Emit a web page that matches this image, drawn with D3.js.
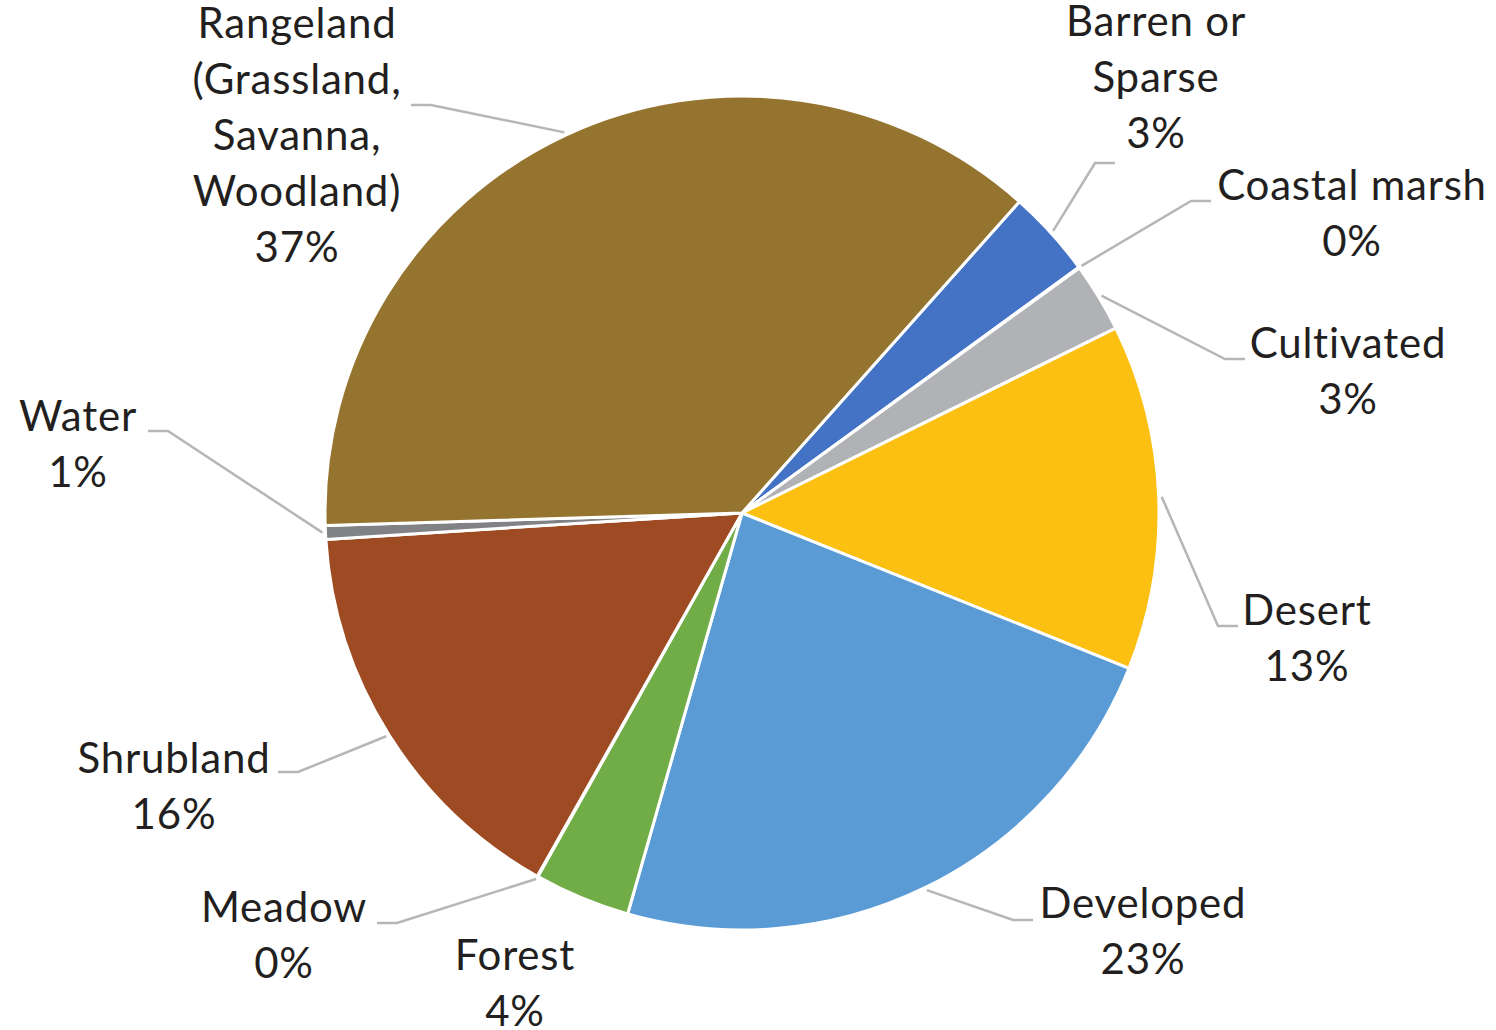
<!DOCTYPE html>
<html>
<head>
<meta charset="utf-8">
<script src="https://cdn.jsdelivr.net/npm/d3@7"></script>
<style>
  html, body { margin: 0; padding: 0; background: #fff; }
  svg { display: block; }
  text { font-family: Lato, "Open Sans", sans-serif; fill: #231f20; letter-spacing: 0.8px; }
</style>
</head>
<body>
<svg id="chart" width="1496" height="1030"></svg>
<script>
// Land cover shares, clockwise from the first slice
var categories = ["Barren or Sparse", "Coastal marsh", "Cultivated", "Desert", "Developed",
                  "Forest", "Meadow", "Shrubland", "Water", "Rangeland"];
var shares     = [3.39, 0.03, 2.69, 13.39, 23.36, 3.72, 0.03, 15.83, 0.53, 37.08];
var labelLines = [["Barren or", "Sparse"], ["Coastal marsh"], ["Cultivated"], ["Desert"],
                  ["Developed"], ["Forest"], ["Meadow"], ["Shrubland"], ["Water"],
                  ["Rangeland", "(Grassland,", "Savanna,", "Woodland)"]];
var colors     = ["#4472c4", "#8faadc", "#b1b2b5", "#fbc012", "#5b9bd5",
                  "#70ad47", "#a9d18e", "#9e4a23", "#818285", "#95742f"];

// label placement (text centre x, first baseline y, leader end, text side)
var labelPos = [
  { x: 1156, y: 36,  ex: 1115, ey: 163, side: "r" },
  { x: 1352, y: 200, ex: 1211, ey: 201, side: "r" },
  { x: 1348, y: 358, ex: 1245, ey: 359, side: "r" },
  { x: 1307, y: 625, ex: 1238, ey: 626, side: "r" },
  { x: 1143, y: 918, ex: 1033, ey: 920, side: "r" },
  { x: 515,  y: 970, ex: null, ey: null, side: null },
  { x: 284,  y: 922, ex: 377,  ey: 923, side: "l" },
  { x: 174,  y: 773, ex: 278,  ey: 772, side: "l" },
  { x: 78,   y: 431, ex: 148,  ey: 431, side: "l" },
  { x: 297,  y: 38,  ex: 411,  ey: 105, side: "l" }
];

var cx = 742, cy = 513, R = 417;
var fontSize = 42, lineH = 56;

var svg = d3.select("#chart");
var total = d3.sum(shares);

var pie = d3.pie()
  .sort(null)
  .value(function (d) { return d; })
  .startAngle(41.7 * Math.PI / 180)
  .endAngle(41.7 * Math.PI / 180 + 2 * Math.PI);

var arcs = pie(shares);
var arc = d3.arc().innerRadius(0).outerRadius(R);

var g = svg.append("g").attr("transform", "translate(" + cx + "," + cy + ")");

g.selectAll("path.slice")
  .data(arcs)
  .join("path")
  .attr("class", "slice")
  .attr("d", arc)
  .attr("fill", function (d, i) { return colors[i]; })
  .attr("stroke", "#fff")
  .attr("stroke-width", 3)
  .attr("stroke-linejoin", "round");

// leader lines
arcs.forEach(function (d, i) {
  var p = labelPos[i];
  if (p.ex == null) return;
  var mid = (d.startAngle + d.endAngle) / 2;
  var sx = cx + (R + 3) * Math.sin(mid);
  var sy = cy - (R + 3) * Math.cos(mid);
  var elbowX = p.side === "r" ? p.ex - 20 : p.ex + 20;
  svg.append("polyline")
    .attr("points", [[sx, sy], [elbowX, p.ey], [p.ex, p.ey]].join(" "))
    .attr("fill", "none")
    .attr("stroke", "#b5b6b9")
    .attr("stroke-width", 2.5);
});

// labels
categories.forEach(function (c, i) {
  var p = labelPos[i];
  var lines = labelLines[i].concat([Math.round(shares[i] / total * 100) + "%"]);
  var t = svg.append("text")
    .attr("text-anchor", "middle")
    .attr("font-size", fontSize);
  lines.forEach(function (s, j) {
    t.append("tspan")
      .attr("x", p.x)
      .attr("y", p.y + j * lineH)
      .text(s);
  });
});
</script>
</body>
</html>
